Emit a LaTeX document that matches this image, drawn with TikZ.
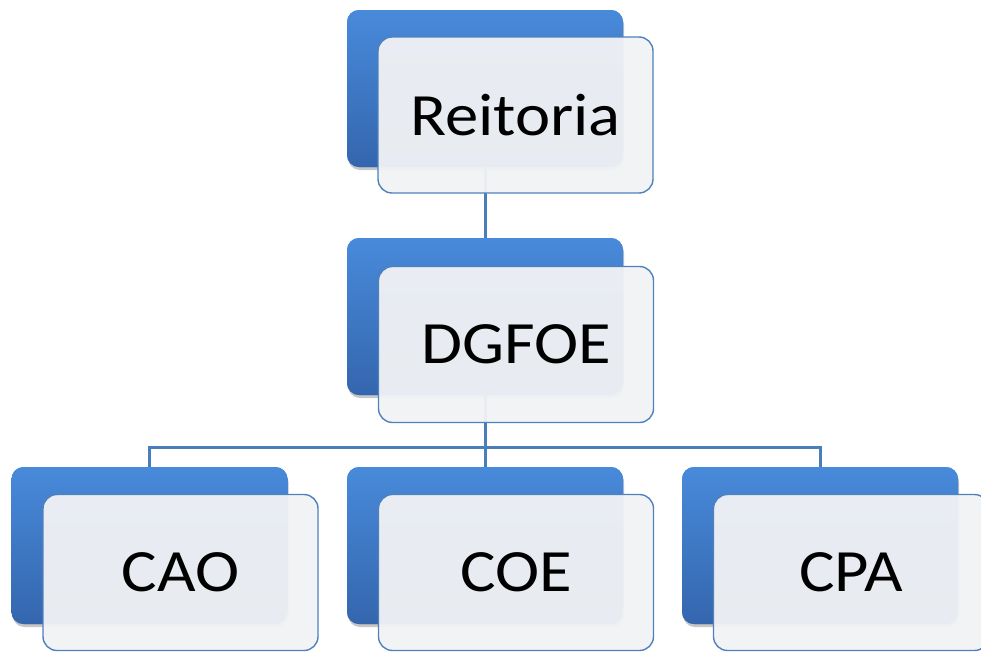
\documentclass[tikz,border=0pt]{standalone}
\usepackage{fontspec}
\setmainfont{Carlito}
\usetikzlibrary{shadows}
\definecolor{linkblue}{RGB}{74,126,187}
\definecolor{backtop}{RGB}{72,138,218}
\definecolor{backbot}{RGB}{52,102,174}
\definecolor{frontfill}{RGB}{242,243,245}
\definecolor{frontline}{RGB}{79,129,189}
\newcommand{\lbl}[1]{\scalebox{1.11}[1]{#1}}
\tikzset{
  backbox/.style={rectangle, rounded corners=12pt, minimum width=276pt, minimum height=157pt,
    top color=backtop, bottom color=backbot, draw=none,
    drop shadow={opacity=0.25, shadow xshift=1pt, shadow yshift=-3pt}},
  frontbox/.style={rectangle, rounded corners=14pt, minimum width=275pt, minimum height=156pt,
    fill=frontfill, fill opacity=0.95, text opacity=1, draw=frontline, line width=1.4pt,
    font=\fontsize{60}{70}\selectfont, text=black, inner sep=0pt},
  link/.style={draw=linkblue, line width=3pt}
}
\begin{document}
\begin{tikzpicture}[x=1pt,y=-1pt]
\useasboundingbox (0,0) rectangle (981,651);
\fill[white] (0,0) rectangle (981,651);
% back boxes
\node[backbox] (rb) at (485,88.5) {};
\node[backbox] (db) at (485,316.5) {};
\node[backbox] (caob) at (149.5,545.5) {};
\node[backbox] (coeb) at (485,545.5) {};
\node[backbox] (cpab) at (820,545.5) {};
% connectors
\coordinate (bus) at (485,447);
\draw[link] (rb.south) -- (db.north);
\draw[link] (db.south) -- (coeb.north);
\draw[link] (caob.north) |- (bus) -| (cpab.north);
% redraw back boxes over connector ends
\node[backbox] at (rb) {};
\node[backbox] at (db) {};
\node[backbox] at (caob) {};
\node[backbox] at (coeb) {};
\node[backbox] at (cpab) {};
% front boxes
\node[frontbox] (rf) at (515.5,115) {\lbl{Reitoria}};
\node[frontbox] (df) at (516,344.5) {\lbl{DGFOE}};
\node[frontbox] (caof) at (180.5,572.5) {\lbl{CAO}};
\node[frontbox] (coef) at (516,572.5) {\lbl{COE}};
\node[frontbox] (cpaf) at (851,572.5) {\lbl{CPA}};
\end{tikzpicture}
\end{document}
